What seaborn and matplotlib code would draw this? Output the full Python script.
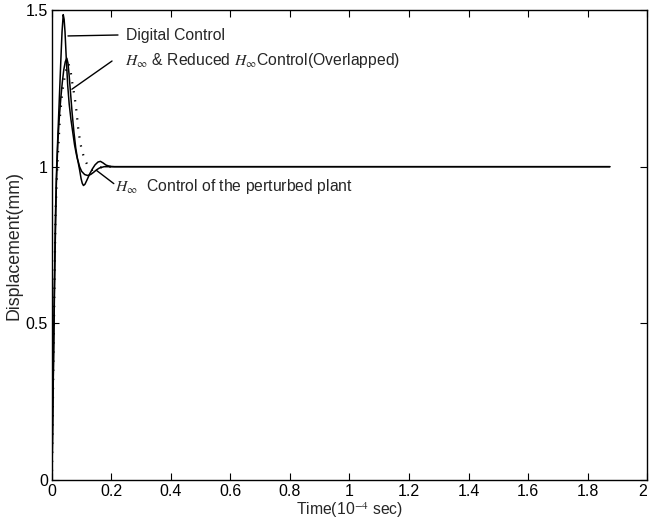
import matplotlib
matplotlib.use('Agg')
import matplotlib.pyplot as plt
import seaborn as sns
import numpy as np

# values (time in 1e-4 sec, displacement in mm)
digital_t = [0, 0.004, 0.008, 0.012, 0.016, 0.02, 0.025, 0.03, 0.034, 0.038,
             0.041, 0.044, 0.048, 0.053, 0.058, 0.064, 0.07, 0.076, 0.082,
             0.088, 0.093, 0.098, 0.102, 0.106, 0.111, 0.118, 0.127, 0.136,
             0.145, 0.155, 0.163, 0.172, 0.182, 0.195, 0.21, 0.3, 1.0, 1.875]
digital_y = [0, 0.3, 0.6, 0.85, 1.0, 1.1, 1.22, 1.34, 1.43, 1.485,
             1.47, 1.43, 1.35, 1.26, 1.2, 1.15, 1.11, 1.07, 1.04,
             1.015, 0.99, 0.962, 0.947, 0.94, 0.944, 0.958, 0.977, 0.993,
             1.006, 1.015, 1.017, 1.012, 1.005, 1.001, 1.0, 1.0, 1.0, 1.0]

hinf_t = [0, 0.005, 0.01, 0.015, 0.02, 0.025, 0.03, 0.035, 0.04, 0.045,
          0.05, 0.054, 0.058, 0.063, 0.068, 0.074, 0.08, 0.086, 0.093,
          0.1, 0.11, 0.12, 0.13, 0.14, 0.15, 0.16, 0.175, 0.2, 0.5, 1.0, 1.875]
hinf_y = [0, 0.35, 0.7, 0.95, 1.08, 1.16, 1.22, 1.27, 1.31, 1.335,
          1.346, 1.33, 1.29, 1.23, 1.17, 1.11, 1.06, 1.025, 1.0,
          0.985, 0.975, 0.972, 0.975, 0.982, 0.99, 0.996, 1.0, 1.0, 1.0, 1.0, 1.0]

pert_t = [0, 0.006, 0.012, 0.018, 0.027, 0.035, 0.045, 0.055, 0.062, 0.068,
          0.077, 0.083, 0.088, 0.094, 0.1, 0.109, 0.122, 0.135, 0.15, 0.17, 0.2]
pert_y = [0, 0.45, 0.85, 1.0, 1.16, 1.24, 1.3, 1.33, 1.31, 1.27,
          1.218, 1.173, 1.125, 1.084, 1.054, 1.026, 1.0, 0.99, 0.992, 1.0, 1.0]

x_ticks = [0, 0.2, 0.4, 0.6, 0.8, 1, 1.2, 1.4, 1.6, 1.8, 2]
x_labels = ['0', '0.2', '0.4', '0.6', '0.8', '1', '1.2', '1.4', '1.6', '1.8', '2']
y_ticks = [0, 0.5, 1, 1.5]
y_labels = ['0', '0.5', '1', '1.5']

sns.set_style('ticks')
plt.rcParams['font.family'] = ['Liberation Sans', 'DejaVu Sans']
plt.rcParams['mathtext.fontset'] = 'stix'

fig = plt.figure(figsize=(6.49, 5.22), dpi=100)
ax = fig.add_axes([0.080, 0.080, 0.917, 0.901])

sns.lineplot(x=digital_t, y=digital_y, ax=ax, color='black', lw=1.1, estimator=None)
sns.lineplot(x=hinf_t, y=hinf_y, ax=ax, color='black', lw=1.1, estimator=None)
sns.lineplot(x=pert_t, y=pert_y, ax=ax, color='black', lw=1.6, estimator=None,
             linestyle=(0, (0.6, 3.5)))

ax.set_xlim(0, 2)
ax.set_ylim(0, 1.5)
ax.set_xticks(x_ticks)
ax.set_xticklabels(x_labels)
ax.set_yticks(y_ticks)
ax.set_yticklabels(y_labels)
ax.tick_params(direction='in', length=5, width=0.8, top=True, right=True,
               labelsize=11.5, pad=3, colors='black')
# last tick label sits at the figure edge, keep it inside
ax.get_xticklabels()[-1].set_horizontalalignment('right')
for s in ax.spines.values():
    s.set_linewidth(1.0)
    s.set_color('black')

ax.set_xlabel('Time(10$^{-4}$ sec)', fontsize=11.3, labelpad=0.5)
ax.set_ylabel('Displacement(mm)', fontsize=12.8, labelpad=2)

# leader lines and labels
leader = dict(color='black', lw=1.0)
ax.plot([0.054, 0.222], [1.417, 1.420], **leader)
ax.text(0.249, 1.42, 'Digital Control', fontsize=11.3, va='center')
ax.plot([0.067, 0.202], [1.247, 1.337], **leader)
ax.text(0.245, 1.34, r'$H_\infty$ & Reduced $H_\infty$Control(Overlapped)',
        fontsize=11.3, va='center')
ax.plot([0.150, 0.208], [0.988, 0.946], **leader)
ax.text(0.212, 0.936, r'$H_\infty$  Control of the perturbed plant',
        fontsize=11.3, va='center')

fig.savefig('out.png', dpi=100)
plt.close(fig)
